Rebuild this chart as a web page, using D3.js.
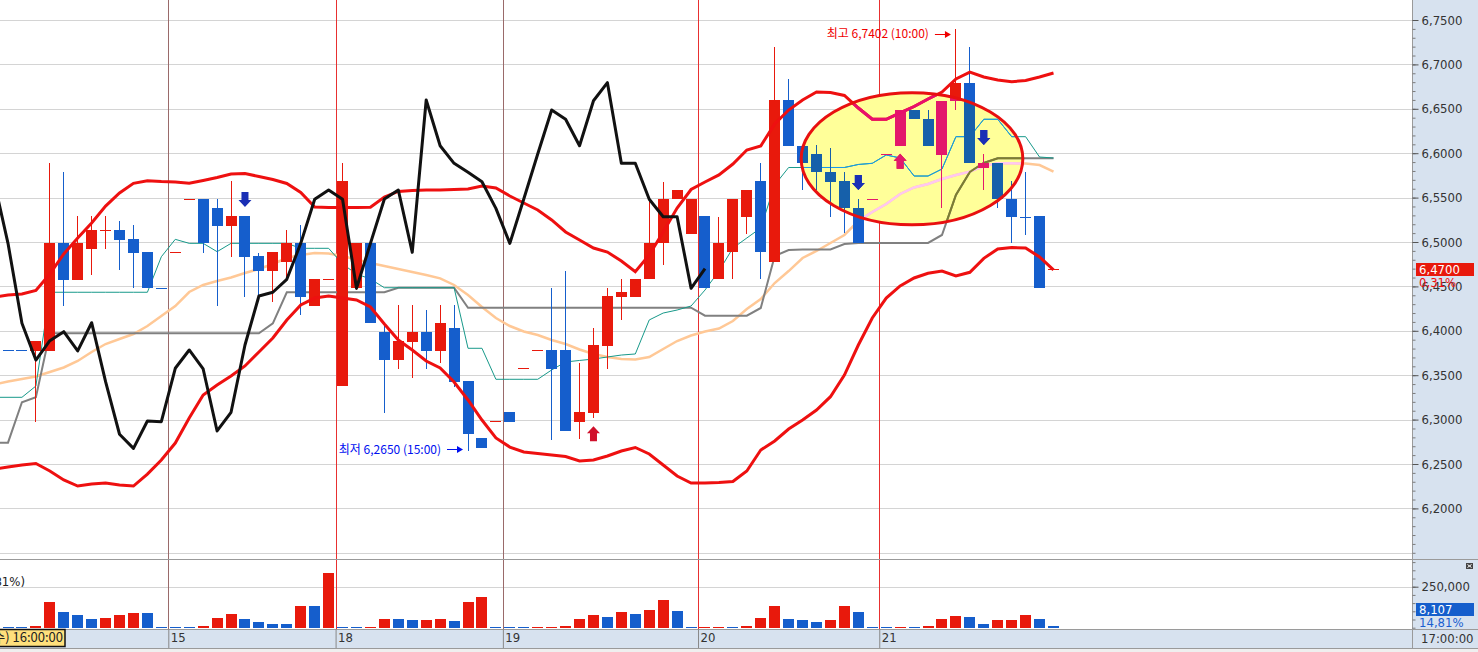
<!DOCTYPE html>
<html>
<head>
<meta charset="utf-8">
<script src="https://cdn.jsdelivr.net/npm/d3@7"></script>
<style>
  body { margin: 0; background: #fff; overflow: hidden; }
  svg { display: block; }
</style>
</head>
<body>
<div id="chart"></div>
<script>
// ---- candle data (hourly), index 0..75 ----
const opens = [6.3784, 6.3784, 6.3775, 6.3775, 6.4992, 6.4572, 6.4921, 6.5130, 6.5135, 6.5034, 6.4887, 6.4479,
  6.4884, 6.5481, 6.5481, 6.5379, 6.5183, 6.5293, 6.4842, 6.4677, 6.4778, 6.4985, 6.4283, 6.4583,
  6.3382, 6.4479, 6.4985, 6.3990, 6.3671, 6.3877, 6.3990, 6.3773, 6.4035, 6.3438, 6.2789, 6.2984,
  6.3082, 6.3578, 6.3784, 6.3784, 6.3784, 6.2976, 6.3078, 6.3833, 6.4384, 6.4384, 6.4580, 6.4985, 6.5481, 6.5087,
  6.5293, 6.4580, 6.4884, 6.5285, 6.5687, 6.4778, 6.6599, 6.6084, 6.5988, 6.5785, 6.5687, 6.5379, 6.5484,
  6.5991, 6.6084, 6.6487, 6.6382, 6.5980, 6.6591, 6.6794, 6.5830, 6.5886, 6.5481, 6.5285, 6.5293, 6.4700];
const highs = [6.3784, 6.3784, 6.3885, 6.5893, 6.5792, 6.5296, 6.5296, 6.5296, 6.5240, 6.5191, 6.4887, 6.4479,
  6.4884, 6.5481, 6.5481, 6.5481, 6.5687, 6.5293, 6.4873, 6.4887, 6.5135, 6.5191, 6.4578, 6.4583,
  6.5893, 6.4985, 6.4985, 6.4084, 6.4291, 6.4291, 6.4234, 6.4291, 6.4291, 6.3438, 6.2789, 6.2984,
  6.3082, 6.3578, 6.3784, 6.4485, 6.4677, 6.3634, 6.4028, 6.4485, 6.4583, 6.4580, 6.5473, 6.5679, 6.5586, 6.5481,
  6.5293, 6.5285, 6.5484, 6.5586, 6.5886, 6.7199, 6.6836, 6.6084, 6.6092, 6.6055, 6.5792, 6.5484, 6.5484,
  6.5991, 6.6487, 6.6487, 6.6487, 6.6591, 6.7402, 6.7199, 6.5991, 6.5886, 6.5687, 6.5792, 6.5293, 6.4700];
const lows = [6.3784, 6.3784, 6.2976, 6.3775, 6.4283, 6.4572, 6.4628, 6.4921, 6.4685, 6.4479, 6.4479, 6.4479,
  6.4884, 6.5481, 6.4880, 6.4283, 6.4834, 6.4384, 6.4384, 6.4328, 6.4583, 6.4178, 6.4283, 6.4583,
  6.3382, 6.4460, 6.4084, 6.3071, 6.3570, 6.3465, 6.3570, 6.3634, 6.3371, 6.2650, 6.2676, 6.2984,
  6.2976, 6.3578, 6.3784, 6.2770, 6.2872, 6.2778, 6.3014, 6.3570, 6.4122, 6.4384, 6.4580, 6.4741, 6.5481, 6.5087,
  6.4479, 6.4580, 6.4580, 6.5087, 6.4580, 6.4778, 6.6084, 6.5586, 6.5586, 6.5285, 6.5099, 6.4985, 6.5484,
  6.5991, 6.6084, 6.6382, 6.6084, 6.5379, 6.6487, 6.5886, 6.5586, 6.5379, 6.4985, 6.5079, 6.4479, 6.4700];
const closes = [6.3784, 6.3784, 6.3885, 6.4992, 6.4572, 6.4992, 6.5135, 6.5135, 6.5023, 6.4880, 6.4479, 6.4479,
  6.4884, 6.5481, 6.4985, 6.5183, 6.5293, 6.4834, 6.4677, 6.4887, 6.4985, 6.4384, 6.4578, 6.4583,
  6.5687, 6.4985, 6.4084, 6.3671, 6.3889, 6.3990, 6.3773, 6.4091, 6.3427, 6.2835, 6.2676, 6.2984,
  6.2976, 6.3578, 6.3784, 6.3570, 6.2872, 6.3082, 6.3840, 6.4392, 6.4434, 6.4580, 6.4985, 6.5481, 6.5586, 6.5481,
  6.4479, 6.4985, 6.5484, 6.5586, 6.4884, 6.6599, 6.6084, 6.5886, 6.5785, 6.5679, 6.5379, 6.4985, 6.5484,
  6.5991, 6.6487, 6.6382, 6.6084, 6.6591, 6.6794, 6.5886, 6.5886, 6.5481, 6.5285, 6.5285, 6.4479, 6.4700];
const volumes = [5000, 4800, 12000, 157000, 96000, 77000, 53000, 61000, 78000, 90000, 89000, 4000,
  3500, 3000, 12000, 61000, 83000, 53000, 35000, 22000, 21500, 132000, 131000, 335000,
  4000, 3500, 4000, 55000, 54000, 47000, 47500, 55500, 41000, 157000, 187000, 4000,
  3500, 3000, 4000, 4500, 11000, 55000, 77000, 65000, 96000, 84000, 108000, 169000, 102000, 3800,
  4200, 4600, 4000, 11000, 61000, 132000, 55000, 47000, 35000, 47000, 132000, 96000, 4000,
  3500, 4000, 3500, 11000, 55000, 71000, 65000, 22000, 47000, 47500, 78000, 54740, 8107];

// ---- overlay lines, index -1..75 (first value is the bar just off the left edge) ----
const bbUpper = [6.4380, 6.4403, 6.4414, 6.4454, 6.4640, 6.4865, 6.5045, 6.5214, 6.5405, 6.5552, 6.5661, 6.5690, 6.5681,
  6.5676, 6.5661, 6.5693, 6.5726, 6.5766, 6.5771, 6.5738, 6.5704, 6.5659, 6.5557, 6.5394, 6.5389,
  6.5389, 6.5389, 6.5391, 6.5507, 6.5569, 6.5580, 6.5586, 6.5586, 6.5591, 6.5597, 6.5631, 6.5608,
  6.5518, 6.5439, 6.5360, 6.5248, 6.5113, 6.5023, 6.4932, 6.4887, 6.4786, 6.4666, 6.4854, 6.5113, 6.5383, 6.5591,
  6.5676, 6.5755, 6.5878, 6.6036, 6.6081, 6.6329, 6.6486, 6.6599, 6.6689, 6.6684, 6.6650, 6.6509, 6.6382,
  6.6382, 6.6453, 6.6526, 6.6610, 6.6689, 6.6836, 6.6914, 6.6858, 6.6824, 6.6805, 6.6819, 6.6858, 6.6903];
const bbMid = [6.3395, 6.3429, 6.3457, 6.3485, 6.3536, 6.3587, 6.3660, 6.3761, 6.3851, 6.3908, 6.3964, 6.4054, 6.4167,
  6.4279, 6.4437, 6.4516, 6.4561, 6.4600, 6.4651, 6.4696, 6.4752, 6.4820, 6.4854, 6.4876, 6.4870,
  6.4842, 6.4803, 6.4764, 6.4730, 6.4696, 6.4662, 6.4628, 6.4591, 6.4516, 6.4403, 6.4268, 6.4144,
  6.4054, 6.3992, 6.3953, 6.3896, 6.3851, 6.3789, 6.3739, 6.3705, 6.3682, 6.3677, 6.3705, 6.3795, 6.3885, 6.3947,
  6.3992, 6.4026, 6.4110, 6.4245, 6.4358, 6.4538, 6.4673, 6.4820, 6.4899, 6.4989, 6.5079, 6.5236, 6.5338,
  6.5428, 6.5541, 6.5614, 6.5653, 6.5709, 6.5755, 6.5792, 6.5856, 6.5886, 6.5886, 6.5884, 6.5867, 6.5792];
const bbLower = [6.2444, 6.2466, 6.2489, 6.2506, 6.2421, 6.2320, 6.2252, 6.2275, 6.2286, 6.2264, 6.2252, 6.2387, 6.2545,
  6.2736, 6.3018, 6.3277, 6.3390, 6.3491, 6.3604, 6.3761, 6.3919, 6.4122, 6.4291, 6.4369, 6.4392,
  6.4369, 6.4347, 6.4268, 6.4077, 6.3896, 6.3784, 6.3660, 6.3581, 6.3423, 6.3221, 6.2995, 6.2793,
  6.2691, 6.2635, 6.2618, 6.2601, 6.2584, 6.2534, 6.2545, 6.2590, 6.2646, 6.2686, 6.2613, 6.2489, 6.2365, 6.2286,
  6.2286, 6.2292, 6.2303, 6.2421, 6.2658, 6.2759, 6.2894, 6.2995, 6.3108, 6.3258, 6.3502, 6.3840, 6.4144,
  6.4369, 6.4505, 6.4595, 6.4648, 6.4673, 6.4617, 6.4659, 6.4816, 6.4921, 6.4938, 6.4932, 6.4831, 6.4685];
const convLine = [6.3251, 6.3251, 6.3251, 6.3378, 6.4434, 6.4434, 6.4434, 6.4434, 6.4434, 6.4434, 6.4434, 6.4434, 6.4834,
  6.5030, 6.4985, 6.4985, 6.4891, 6.4985, 6.4985, 6.4985, 6.4985, 6.4985, 6.4929, 6.4929, 6.4929,
  6.4752, 6.4640, 6.4583, 6.4485, 6.4485, 6.4485, 6.4485, 6.4485, 6.4485, 6.3803, 6.3803, 6.3454,
  6.3454, 6.3454, 6.3454, 6.3559, 6.3649, 6.3666, 6.3682, 6.3705, 6.3727, 6.3739, 6.4122, 6.4200, 6.4234, 6.4279,
  6.4459, 6.4673, 6.4932, 6.5045, 6.5158, 6.5642, 6.5839, 6.5839, 6.5839, 6.5839, 6.5839, 6.5873, 6.5886,
  6.5980, 6.5946, 6.5743, 6.5743, 6.5822, 6.6186, 6.6186, 6.6382, 6.6382, 6.6186, 6.6186, 6.5957, 6.5946];
const baseLine = [6.2740, 6.2740, 6.3195, 6.3251, 6.3972, 6.3972, 6.3972, 6.3972, 6.3972, 6.3972, 6.3972, 6.3972, 6.3972,
  6.3972, 6.3972, 6.3972, 6.3972, 6.3972, 6.3972, 6.3972, 6.4084, 6.4434, 6.4434, 6.4434, 6.4434,
  6.4434, 6.4434, 6.4434, 6.4434, 6.4485, 6.4485, 6.4485, 6.4485, 6.4485, 6.4260, 6.4260, 6.4260,
  6.4260, 6.4260, 6.4260, 6.4260, 6.4260, 6.4260, 6.4260, 6.4260, 6.4260, 6.4260, 6.4260, 6.4260, 6.4260, 6.4260,
  6.4170, 6.4170, 6.4170, 6.4170, 6.4257, 6.4842, 6.4910, 6.4916, 6.4916, 6.4916, 6.4977, 6.4989, 6.4989,
  6.4989, 6.4989, 6.4989, 6.4989, 6.5079, 6.5529, 6.5788, 6.5890, 6.5943, 6.5943, 6.5943, 6.5943, 6.5943];
const lagShift = 25;   // lagging span: close plotted 25 bars back

// ---- labels / marks ----
const dayBreaks = [
  { i: 12, label: "15", color: "#9a6a6a" },
  { i: 24, label: "18", color: "#e83030" },
  { i: 36, label: "19", color: "#9a6a6a" },
  { i: 50, label: "20", color: "#e83030" },
  { i: 63, label: "21", color: "#e83030" }
];
const signals = [
  { i: 17, dir: "down" }, { i: 42, dir: "up" }, { i: 61, dir: "down" },
  { i: 64, dir: "up" }, { i: 70, dir: "down" }
];
const priceTicks = [6.75, 6.70, 6.65, 6.60, 6.55, 6.50, 6.45, 6.40, 6.35, 6.30, 6.25, 6.20];
const gridLevels = priceTicks.concat([6.15]);
const volTicks = [250000];
const highMark = { i: 68, value: 6.7402, text: "최고 6,7402 (10:00)" };
const lowMark = { i: 33, value: 6.2650, text: "최저 6,2650 (15:00)" };
const lastPrice = { value: 6.4700, text: "6,4700", change: "0,31%" };
const lastVol = { text: "8,107", change: "14,81%" };
const highlight = { i0: 56.9, i1: 72.8, p0: 6.6681, p1: 6.5194 };

// ---- layout ----
const W = 1478, H = 652;
const plotR = 1412;
const priceBottom = 559, volBottom = 629, axisBottom = 648;

const x = d3.scaleLinear().domain([0, 75]).range([8, 1053.5]);
const y = d3.scaleLinear().domain([6.2, 6.75]).range([508.4, 20]);
const yv = d3.scaleLinear().domain([0, 250000]).range([627.7, 586.7]);

const fmtPrice = d => d3.format(".4f")(d).replace(".", ",");
const numFont = "'Liberation Sans Narrow', 'DejaVu Sans Condensed', 'Liberation Sans', sans-serif";
const korFont = "'Noto Sans CJK KR', 'Noto Sans', sans-serif";

const normal = { up: "#e8190c", down: "#155ecc", bb: "#ee1010", mid: "#ffc896", conv: "#17998a",
  base: "#808080", arrowUp: "#d0102c", arrowDown: "#1a2fb5" };
const inside = { up: "#e3186b", down: "#1660aa", bb: "#e8106c", mid: "#ffc8f0", conv: "#1a9aec",
  base: "#7d7d30", arrowUp: "#e3186b", arrowDown: "#1a2fb5" };

function candleUp(i) {
  if (closes[i] > opens[i]) return true;
  if (closes[i] < opens[i]) return false;
  return i > 0 && closes[i] > closes[i - 1];
}

const svg = d3.select("#chart").append("svg")
  .attr("width", W).attr("height", H)
  .style("font-family", numFont);

const defs = svg.append("defs");
defs.append("clipPath").attr("id", "plotClip")
  .append("rect").attr("x", 0).attr("y", 0).attr("width", plotR).attr("height", priceBottom);

const ecx = (x(highlight.i0) + x(highlight.i1)) / 2;
const ecy = (y(highlight.p0) + y(highlight.p1)) / 2;
const erx = (x(highlight.i1) - x(highlight.i0)) / 2;
const ery = (y(highlight.p1) - y(highlight.p0)) / 2;
defs.append("clipPath").attr("id", "ellClip")
  .append("ellipse").attr("cx", ecx).attr("cy", ecy).attr("rx", erx).attr("ry", ery);

// axis backgrounds
svg.append("rect").attr("x", plotR).attr("y", 0).attr("width", W - plotR).attr("height", axisBottom)
  .attr("fill", "#d7e2ef");
svg.append("rect").attr("x", 0).attr("y", volBottom).attr("width", W).attr("height", axisBottom - volBottom)
  .attr("fill", "#d7e2ef");
svg.append("rect").attr("x", 0).attr("y", axisBottom).attr("width", W).attr("height", H - axisBottom)
  .attr("fill", "#efefef");

// grid lines
svg.append("g").selectAll("line").data(gridLevels).join("line")
  .attr("x1", 0).attr("x2", plotR)
  .attr("y1", d => Math.round(y(d)) + 0.5).attr("y2", d => Math.round(y(d)) + 0.5)
  .attr("stroke", "#d4d4d4");
svg.append("g").selectAll("line").data(volTicks).join("line")
  .attr("x1", 0).attr("x2", plotR)
  .attr("y1", d => Math.round(yv(d)) + 0.5).attr("y2", d => Math.round(yv(d)) + 0.5)
  .attr("stroke", "#d4d4d4");

// day separators
svg.append("g").selectAll("line").data(dayBreaks).join("line")
  .attr("x1", d => Math.round(x(d.i - 0.5)) + 0.5).attr("x2", d => Math.round(x(d.i - 0.5)) + 0.5)
  .attr("y1", 0).attr("y2", volBottom)
  .attr("stroke", d => d.color);

// highlight ellipse fill (covers grid)
svg.append("ellipse").attr("cx", ecx).attr("cy", ecy).attr("rx", erx).attr("ry", ery)
  .attr("fill", "#ffff99");

// ---- series ----
const idx = d3.range(closes.length);
const withPrev = arr => arr.map((v, k) => [k - 1, v]);
const line = d3.line().x(d => x(d[0])).y(d => y(d[1]));
const lagData = closes.map((c, k) => [k - lagShift, c]).filter(d => d[0] >= -1);

function drawSeries(g, pal) {
  g.append("path").datum(withPrev(bbMid)).attr("d", line)
    .attr("fill", "none").attr("stroke", pal.mid).attr("stroke-width", 2.5);
  g.append("path").datum(withPrev(baseLine)).attr("d", line)
    .attr("fill", "none").attr("stroke", pal.base).attr("stroke-width", 2);
  g.append("path").datum(withPrev(convLine)).attr("d", line)
    .attr("fill", "none").attr("stroke", pal.conv).attr("stroke-width", 1);

  const color = i => candleUp(i) ? pal.up : pal.down;
  g.append("g").selectAll("rect").data(idx).join("rect")
    .attr("x", i => Math.floor(x(i)))
    .attr("y", i => Math.round(y(highs[i])))
    .attr("width", 1)
    .attr("height", i => Math.max(1, Math.round(y(lows[i])) - Math.round(y(highs[i]))))
    .attr("fill", color);
  g.append("g").selectAll("rect").data(idx).join("rect")
    .attr("x", i => Math.round(x(i) - 5.5))
    .attr("y", i => Math.round(y(Math.max(opens[i], closes[i]))))
    .attr("width", 11)
    .attr("height", i => Math.max(1, Math.round(y(Math.min(opens[i], closes[i]))) - Math.round(y(Math.max(opens[i], closes[i])))))
    .attr("fill", color);

  g.append("path").datum(withPrev(bbUpper)).attr("d", line)
    .attr("fill", "none").attr("stroke", pal.bb).attr("stroke-width", 3);
  g.append("path").datum(withPrev(bbLower)).attr("d", line)
    .attr("fill", "none").attr("stroke", pal.bb).attr("stroke-width", 3);
  g.append("path").datum(lagData).attr("d", line)
    .attr("fill", "none").attr("stroke", "#111").attr("stroke-width", 3)
    .attr("stroke-linejoin", "round");

  // signal arrows
  g.append("g").selectAll("path").data(signals).join("path")
    .attr("d", s => {
      const cx = x(s.i);
      if (s.dir === "down") {
        const t = y(highs[s.i]) - 24;
        return `M${cx - 3.5},${t}H${cx + 3.5}V${t + 8}H${cx + 6.5}L${cx},${t + 15}L${cx - 6.5},${t + 8}H${cx - 3.5}Z`;
      }
      const t = y(lows[s.i]) + 8;
      return `M${cx},${t}L${cx + 6.5},${t + 7}H${cx + 3.5}V${t + 15}H${cx - 3.5}V${t + 7}H${cx - 6.5}Z`;
    })
    .attr("fill", s => s.dir === "down" ? pal.arrowDown : pal.arrowUp);
}

const plot = svg.append("g").attr("clip-path", "url(#plotClip)");
drawSeries(plot.append("g"), normal);
drawSeries(plot.append("g").attr("clip-path", "url(#ellClip)"), inside);

svg.append("ellipse").attr("cx", ecx).attr("cy", ecy).attr("rx", erx).attr("ry", ery)
  .attr("fill", "none").attr("stroke", "#e81010").attr("stroke-width", 3);

// high / low notes
function note(m, anchorY, col) {
  const xe = x(m.i);
  const g = svg.append("g").attr("fill", col).attr("stroke", col);
  g.append("text").attr("x", xe - 27).attr("y", anchorY + 4.5)
    .attr("text-anchor", "end").attr("stroke", "none")
    .style("font-family", korFont).style("font-size", "12px").text(m.text);
  g.append("line").attr("x1", xe - 21).attr("x2", xe - 10)
    .attr("y1", Math.round(anchorY) + 0.5).attr("y2", Math.round(anchorY) + 0.5);
  g.append("path").attr("stroke", "none")
    .attr("d", `M${xe - 11},${Math.round(anchorY) - 3}L${xe - 5},${Math.round(anchorY) + 0.5}L${xe - 11},${Math.round(anchorY) + 4}Z`);
}
note(highMark, y(highMark.value) + 5, "#f00000");
note(lowMark, y(lowMark.value) - 1.5, "#0010f0");

// ---- volume ----
svg.append("g").selectAll("rect").data(idx).join("rect")
  .attr("x", i => Math.round(x(i) - 5.5))
  .attr("y", i => Math.min(Math.round(yv(volumes[i])), 627))
  .attr("width", 11)
  .attr("height", i => Math.max(1, 628 - Math.min(Math.round(yv(volumes[i])), 627)))
  .attr("fill", i => (i > 0 && volumes[i] > volumes[i - 1]) ? "#e8190c" : "#155ecc");

// panel borders
const borders = svg.append("g").attr("stroke", "#9a9a9a");
borders.append("line").attr("x1", 0).attr("x2", W).attr("y1", priceBottom + 0.5).attr("y2", priceBottom + 0.5);
borders.append("line").attr("x1", 0).attr("x2", W).attr("y1", volBottom + 0.5).attr("y2", volBottom + 0.5);
borders.append("line").attr("x1", 0).attr("x2", W).attr("y1", axisBottom + 0.5).attr("y2", axisBottom + 0.5);
borders.append("line").attr("x1", plotR + 0.5).attr("x2", plotR + 0.5).attr("y1", 0).attr("y2", axisBottom);

// ---- right price axis ----
const minorPrice = d3.range(615, 676).map(d => d / 100).filter(d => y(d) < priceBottom - 3);
svg.append("g").attr("transform", `translate(${plotR + 0.5},0)`)
  .call(d3.axisRight(y).tickValues(minorPrice).tickSize(3).tickFormat(""))
  .call(g => g.select(".domain").remove())
  .call(g => g.selectAll("line").attr("stroke", "#7a7a7a"));
svg.append("g").attr("transform", `translate(${plotR + 0.5},0)`)
  .call(d3.axisRight(y).tickValues(priceTicks).tickSize(6).tickPadding(3).tickFormat(fmtPrice))
  .call(g => g.select(".domain").remove())
  .call(g => g.selectAll("line").attr("stroke", "#555"))
  .call(g => g.selectAll("text").attr("fill", "#333").style("font-size", "13px").style("font-family", numFont));

// last price tag
svg.append("rect").attr("x", 1416).attr("y", Math.round(y(lastPrice.value)) - 6)
  .attr("width", 58).attr("height", 13).attr("fill", "#e8190c");
svg.append("text").attr("x", 1419).attr("y", Math.round(y(lastPrice.value)) + 5)
  .attr("fill", "#fff").style("font-size", "13px").text(lastPrice.text);
svg.append("text").attr("x", 1419).attr("y", Math.round(y(lastPrice.value)) + 18)
  .attr("fill", "#f01010").style("font-size", "13px").text(lastPrice.change);

// ---- volume axis ----
const minorVol = d3.range(0, 400001, 50000).filter(d => yv(d) > priceBottom + 3);
svg.append("g").attr("transform", `translate(${plotR + 0.5},0)`)
  .call(d3.axisRight(yv).tickValues(minorVol).tickSize(3).tickFormat(""))
  .call(g => g.select(".domain").remove())
  .call(g => g.selectAll("line").attr("stroke", "#7a7a7a"));
svg.append("g").attr("transform", `translate(${plotR + 0.5},0)`)
  .call(d3.axisRight(yv).tickValues(volTicks).tickSize(6).tickPadding(3).tickFormat(d3.format(",")))
  .call(g => g.select(".domain").remove())
  .call(g => g.selectAll("line").attr("stroke", "#555"))
  .call(g => g.selectAll("text").attr("fill", "#333").style("font-size", "13px").style("font-family", numFont));

svg.append("rect").attr("x", 1416).attr("y", 603).attr("width", 58).attr("height", 13).attr("fill", "#155ecc");
svg.append("text").attr("x", 1419).attr("y", 614).attr("fill", "#fff").style("font-size", "13px").text(lastVol.text);
svg.append("text").attr("x", 1419).attr("y", 627).attr("fill", "#1a5ed0").style("font-size", "13px").text(lastVol.change);

// panel close icon
svg.append("rect").attr("x", 1466).attr("y", 563).attr("width", 7).attr("height", 6).attr("fill", "#444");
svg.append("path").attr("d", "M1467.5,564.5L1471.5,567.5M1471.5,564.5L1467.5,567.5")
  .attr("stroke", "#fff").attr("stroke-width", 1);

// volume title (cut at left edge, as in the source window)
svg.append("text").attr("x", 25).attr("y", 586).attr("text-anchor", "end")
  .attr("fill", "#222").style("font-size", "13px").text("거래량 8,107 (14,81%)");

// ---- time axis ----
svg.append("g").attr("transform", `translate(0,${volBottom})`)
  .call(d3.axisBottom(x).tickValues(dayBreaks.map(d => d.i - 0.5)).tickSize(19)
    .tickFormat((d, k) => dayBreaks[k].label))
  .call(g => g.select(".domain").remove())
  .call(g => g.selectAll("line").attr("stroke", "#888"))
  .call(g => g.selectAll("text").attr("text-anchor", "start").attr("x", 2).attr("y", 13).attr("dy", 0)
    .attr("fill", "#333").style("font-size", "13px").style("font-family", numFont));

svg.append("text").attr("x", 1421).attr("y", 643).attr("fill", "#333").style("font-size", "13px").text("17:00:00");

// crosshair time tag
svg.append("rect").attr("x", -2).attr("y", 629.5).attr("width", 67).attr("height", 17)
  .attr("fill", "#ffe07c").attr("stroke", "#111").attr("stroke-width", 1.5);
svg.append("text").attr("x", 63).attr("y", 642).attr("text-anchor", "end")
  .attr("fill", "#222").style("font-size", "13px").style("font-family", korFont + "," + numFont)
  .text("(수) 16:00:00");
</script>
</body>
</html>
